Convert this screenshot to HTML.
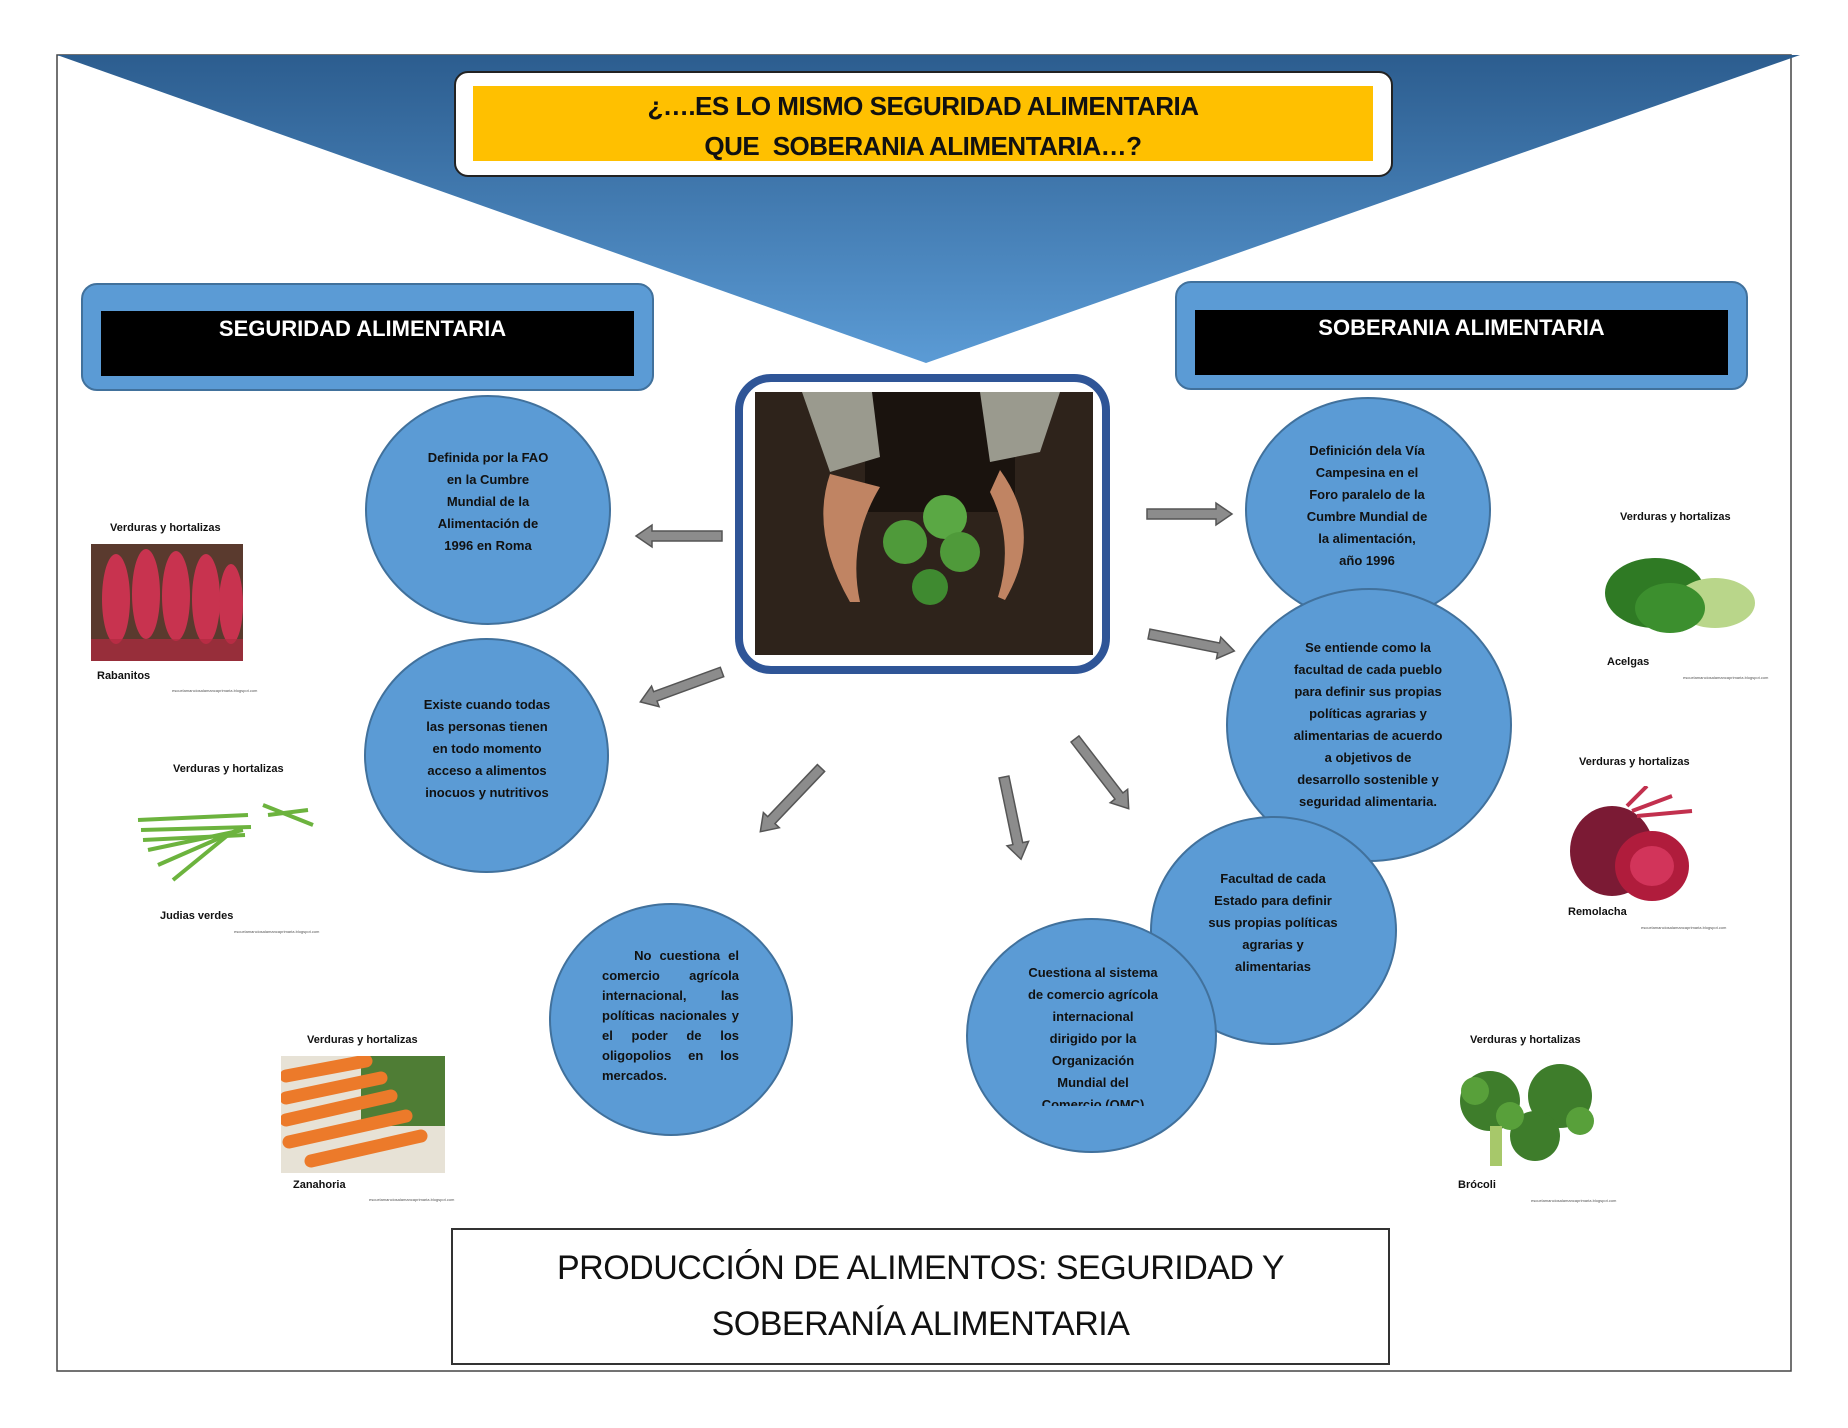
<!DOCTYPE html>
<html><head><meta charset="utf-8"><style>
body{margin:0;width:1848px;height:1428px;background:#fff;position:relative;overflow:hidden;font-family:"Liberation Sans",sans-serif}
.a{position:absolute}
.circ{position:absolute;border-radius:50%;background:#5b9bd5;border:2px solid #41719c;box-sizing:border-box;overflow:hidden}
.t{position:absolute;font-weight:bold;font-size:13px;line-height:22px;color:#111;text-align:center;transform:translateX(-50%);white-space:nowrap}
.lbl{position:absolute;font-size:11px;font-weight:bold;color:#111;white-space:nowrap}
.src{position:absolute;font-size:4px;color:#555;white-space:nowrap}
</style></head><body>
<svg class="a" style="left:0;top:0" width="1848" height="1428">
<defs><linearGradient id="g" x1="0" y1="0" x2="0" y2="1"><stop offset="0" stop-color="#2c5d8f"/><stop offset="1" stop-color="#5b9bd5"/></linearGradient></defs>
<rect x="57" y="55" width="1734" height="1316" fill="none" stroke="#444" stroke-width="1.5"/>
<polygon points="57,55 1800,55 926,363" fill="url(#g)"/>
<g fill="#8c8c8c" stroke="#555" stroke-width="1.5">
<polygon points="0,-5 -70,-5 -70,-11 -86,0 -70,11 -70,5 0,5" transform="translate(722,536)" />
<polygon points="0,-5 71,-5 71,-11 87,0 71,11 71,5 0,5" transform="translate(722,672) rotate(159.9)"/>
<polygon points="0,-5 72,-5 72,-11 88,0 72,11 72,5 0,5" transform="translate(821,768) rotate(133.6)"/>
<polygon points="0,-5 68,-5 68,-11 84,0 68,11 68,5 0,5" transform="translate(1004,777) rotate(78.3)"/>
<polygon points="0,-5 72,-5 72,-11 88,0 72,11 72,5 0,5" transform="translate(1075,739) rotate(52.4)"/>
<polygon points="0,-5 69,-5 69,-11 85,0 69,11 69,5 0,5" transform="translate(1147,514)"/>
<polygon points="0,-5 71,-5 71,-11 87,0 71,11 71,5 0,5" transform="translate(1149,634) rotate(11.3)"/>
</g>
</svg>
<div class="a" style="left:454px;top:71px;width:939px;height:106px;border:2px solid #222;border-radius:14px;background:#fff;box-sizing:border-box"></div>
<div class="a" style="left:473px;top:86px;width:900px;height:75px;background:#ffc000;text-align:center;font-weight:bold;font-size:26px;line-height:40px;color:#111;letter-spacing:-0.5px">¿….ES LO MISMO SEGURIDAD ALIMENTARIA<br>QUE&nbsp; SOBERANIA ALIMENTARIA…?</div>
<div class="a" style="left:81px;top:283px;width:573px;height:108px;background:#5b9bd5;border:2px solid #41719c;border-radius:16px;box-sizing:border-box"></div>
<div class="a" style="left:101px;top:311px;width:533px;height:65px;background:#000;color:#fff;font-weight:bold;font-size:22px;line-height:36px;text-align:center;box-sizing:border-box;padding-right:10px">SEGURIDAD ALIMENTARIA</div>
<div class="a" style="left:1175px;top:281px;width:573px;height:109px;background:#5b9bd5;border:2px solid #41719c;border-radius:16px;box-sizing:border-box"></div>
<div class="a" style="left:1195px;top:310px;width:533px;height:65px;background:#000;color:#fff;font-weight:bold;font-size:22px;line-height:36px;text-align:center">SOBERANIA ALIMENTARIA</div>
<div class="a" style="left:735px;top:374px;width:375px;height:300px;border:8px solid #2f5597;border-radius:36px;box-sizing:border-box;background:#fff"></div>
<svg class="a" style="left:755px;top:392px" width="338" height="263">
<rect width="338" height="263" fill="#2e231b"/>
<rect x="110" y="0" width="150" height="120" fill="#1a130e"/>
<path d="M47,0 L117,0 L125,65 L75,80 Z" fill="#9a9a8e"/>
<path d="M225,0 L305,0 L285,60 L235,70 Z" fill="#9a9a8e"/>
<path d="M75,82 Q55,140 95,210 L105,210 Q92,150 125,95 Z" fill="#c08463"/>
<path d="M245,78 Q290,140 250,208 L243,205 Q260,150 235,100 Z" fill="#c08463"/>
<circle cx="150" cy="150" r="22" fill="#4f9a3a"/><circle cx="190" cy="125" r="22" fill="#5aa844"/>
<circle cx="205" cy="160" r="20" fill="#4f9a3a"/><circle cx="175" cy="195" r="18" fill="#3f8a30"/>
</svg>
<div class="circ" style="left:1245px;top:397px;width:246px;height:226px"></div>
<div class="circ" style="left:1226px;top:588px;width:286px;height:274px"></div>
<div class="circ" style="left:1150px;top:816px;width:247px;height:229px"></div>
<div class="circ" style="left:966px;top:918px;width:251px;height:235px"></div>
<div class="circ" style="left:365px;top:395px;width:246px;height:230px"></div>
<div class="circ" style="left:364px;top:638px;width:245px;height:235px"></div>
<div class="circ" style="left:549px;top:903px;width:244px;height:233px"></div>
<div class="t" style="left:488px;top:447px">Definida por la FAO<br>en la Cumbre<br>Mundial de la<br>Alimentación de<br>1996 en Roma</div>
<div class="t" style="left:487px;top:694px">Existe cuando todas<br>las personas tienen<br>en todo momento<br>acceso a alimentos<br>inocuos y nutritivos</div>
<div class="t" style="left:1367px;top:440px">Definición dela Vía<br>Campesina en el<br>Foro paralelo de la<br>Cumbre Mundial de<br>la alimentación,<br>año 1996</div>
<div class="t" style="left:1368px;top:637px">Se entiende como la<br>facultad de cada pueblo<br>para definir sus propias<br>políticas agrarias y<br>alimentarias de acuerdo<br>a objetivos de<br>desarrollo sostenible y<br>seguridad alimentaria.</div>
<div class="t" style="left:1273px;top:868px">Facultad de cada<br>Estado para definir<br>sus propias políticas<br>agrarias y<br>alimentarias</div>
<div class="a" style="left:966px;top:918px;width:251px;height:188px;overflow:hidden"><div class="t" style="left:127px;top:44px">Cuestiona al sistema<br>de comercio agrícola<br>internacional<br>dirigido por la<br>Organización<br>Mundial del<br>Comercio (OMC)</div></div>
<div class="a" style="left:602px;top:946px;width:137px;font-weight:bold;font-size:13px;line-height:20px;text-align:justify;text-align-last:left;color:#111">&nbsp;&nbsp;&nbsp;&nbsp;No cuestiona el comercio agrícola internacional, las políticas nacionales y el poder de los oligopolios en los mercados.</div>
<div class="lbl" style="left:110px;top:522px">Verduras y hortalizas</div>
<svg class="a" style="left:91px;top:544px" width="152" height="117"><rect width="152" height="117" fill="#5a3a2e"/><g fill="#c8334f"><ellipse cx="25" cy="55" rx="14" ry="45"/><ellipse cx="55" cy="50" rx="14" ry="45"/><ellipse cx="85" cy="52" rx="14" ry="45"/><ellipse cx="115" cy="55" rx="14" ry="45"/><ellipse cx="140" cy="60" rx="12" ry="40"/></g><rect y="95" width="152" height="22" fill="#b02a40" opacity=".7"/></svg>
<div class="lbl" style="left:97px;top:670px">Rabanitos</div>
<div class="src" style="left:172px;top:688px">escuelamanciosalamancaprimaria.blogspot.com</div>
<div class="lbl" style="left:173px;top:763px">Verduras y hortalizas</div>
<svg class="a" style="left:133px;top:785px" width="185" height="110"><g stroke="#6cb33e" stroke-width="4"><line x1="5" y1="35" x2="115" y2="30"/><line x1="8" y1="45" x2="118" y2="42"/><line x1="10" y1="55" x2="112" y2="50"/><line x1="15" y1="65" x2="110" y2="45"/><line x1="25" y1="80" x2="105" y2="45"/><line x1="40" y1="95" x2="95" y2="50"/><line x1="130" y1="20" x2="180" y2="40"/><line x1="135" y1="30" x2="175" y2="25"/></g></svg>
<div class="lbl" style="left:160px;top:910px">Judias verdes</div>
<div class="src" style="left:234px;top:929px">escuelamanciosalamancaprimaria.blogspot.com</div>
<div class="lbl" style="left:307px;top:1034px">Verduras y hortalizas</div>
<svg class="a" style="left:281px;top:1056px" width="164" height="117"><rect width="164" height="117" fill="#e7e2d6"/><rect x="80" width="84" height="70" fill="#4f7d35"/><g stroke="#ec7a2a" stroke-width="13" stroke-linecap="round"><line x1="5" y1="20" x2="85" y2="5"/><line x1="5" y1="42" x2="100" y2="22"/><line x1="5" y1="64" x2="110" y2="40"/><line x1="8" y1="86" x2="125" y2="60"/><line x1="30" y1="105" x2="140" y2="80"/></g></svg>
<div class="lbl" style="left:293px;top:1179px">Zanahoria</div>
<div class="src" style="left:369px;top:1197px">escuelamanciosalamancaprimaria.blogspot.com</div>
<div class="lbl" style="left:1620px;top:511px">Verduras y hortalizas</div>
<svg class="a" style="left:1600px;top:548px" width="156" height="98"><ellipse cx="55" cy="45" rx="50" ry="35" fill="#2f7a24"/><ellipse cx="115" cy="55" rx="40" ry="25" fill="#b9d68a"/><ellipse cx="70" cy="60" rx="35" ry="25" fill="#3c8f2e"/></svg>
<div class="lbl" style="left:1607px;top:656px">Acelgas</div>
<div class="src" style="left:1683px;top:675px">escuelamanciosalamancaprimaria.blogspot.com</div>
<div class="lbl" style="left:1579px;top:756px">Verduras y hortalizas</div>
<svg class="a" style="left:1567px;top:786px" width="128" height="116"><ellipse cx="45" cy="65" rx="42" ry="45" fill="#7b1a34"/><ellipse cx="85" cy="80" rx="37" ry="35" fill="#b01c3c"/><ellipse cx="85" cy="80" rx="22" ry="20" fill="#d2345a"/><g stroke="#c2304e" stroke-width="4"><line x1="60" y1="20" x2="80" y2="0"/><line x1="65" y1="25" x2="105" y2="10"/><line x1="70" y1="30" x2="125" y2="25"/></g></svg>
<div class="lbl" style="left:1568px;top:906px">Remolacha</div>
<div class="src" style="left:1641px;top:925px">escuelamanciosalamancaprimaria.blogspot.com</div>
<div class="lbl" style="left:1470px;top:1034px">Verduras y hortalizas</div>
<svg class="a" style="left:1450px;top:1061px" width="156" height="112"><g fill="#3e7d2b"><circle cx="40" cy="40" r="30"/><circle cx="110" cy="35" r="32"/><circle cx="85" cy="75" r="25"/></g><g fill="#58a03a"><circle cx="25" cy="30" r="14"/><circle cx="60" cy="55" r="14"/><circle cx="130" cy="60" r="14"/></g><rect x="40" y="65" width="12" height="40" fill="#a7c86a"/></svg>
<div class="lbl" style="left:1458px;top:1179px">Brócoli</div>
<div class="src" style="left:1531px;top:1198px">escuelamanciosalamancaprimaria.blogspot.com</div>
<div class="a" style="left:451px;top:1228px;width:939px;height:137px;border:2px solid #333;box-sizing:border-box;background:#fff;text-align:center;font-size:34px;line-height:56px;color:#111;padding-top:10px;letter-spacing:-0.5px">PRODUCCIÓN DE ALIMENTOS: SEGURIDAD Y<br>SOBERANÍA ALIMENTARIA</div>
</body></html>
